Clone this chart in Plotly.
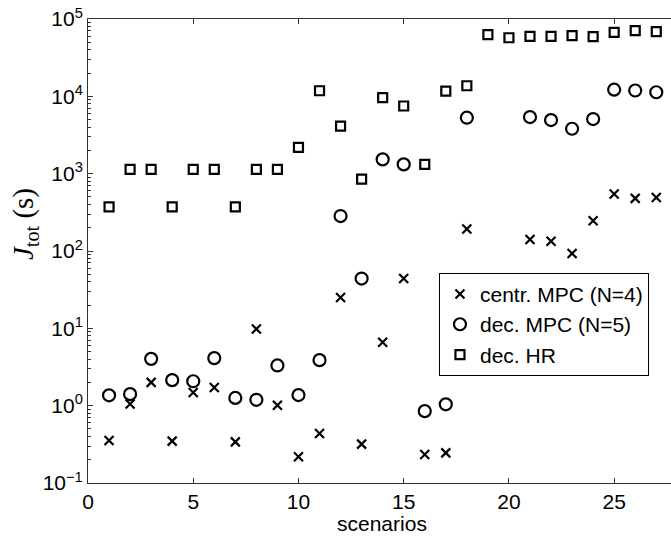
import plotly.graph_objects as go

scenarios = list(range(1, 28))

centr_mpc_n4 = [0.355, 1.05, 2.0, 0.348, 1.48, 1.72, 0.34, 9.8, 1.01, 0.218,
                0.436, 25, 0.318, 6.6, 44, 0.234, 0.245, 192, None, None,
                141, 134, 93, 246, 545, 479, 493]

dec_mpc_n5 = [1.36, 1.41, 4.03, 2.14, 2.07, 4.12, 1.26, 1.19, 3.31, 1.37,
              3.88, 283, 44, 1530, 1318, 0.85, 1.04, 5290, None, None,
              5390, 4930, 3810, 5080, 12200, 11900, 11300]

dec_hr = [373, 1137, 1137, 373, 1137, 1137, 373, 1137, 1137, 2190,
          11800, 4130, 850, 9600, 7500, 1318, 11700, 13700, 62700, 57200,
          59700, 59700, 60800, 59000, 67300, 70600, 68500]

x_tickvals = [0, 5, 10, 15, 20, 25]
y_tickvals = [0.1, 1, 10, 100, 1000, 10000, 100000]
y_ticktext = ["10<sup>\u22121</sup>", "10<sup>0</sup>", "10<sup>1</sup>",
              "10<sup>2</sup>", "10<sup>3</sup>", "10<sup>4</sup>", "10<sup>5</sup>"]

names = ["centr. MPC (N=4)", "dec. MPC (N=5)", "dec. HR"]

FONT = "Liberation Sans, Arial, Helvetica, sans-serif"
AX = "#333333"

fig = go.Figure()
fig.add_trace(go.Scatter(
    x=scenarios, y=centr_mpc_n4, mode="markers", name=names[0],
    marker=dict(symbol="x-thin-open", size=9, color="black",
                line=dict(color="black", width=2.2))))
fig.add_trace(go.Scatter(
    x=scenarios, y=dec_mpc_n5, mode="markers", name=names[1],
    marker=dict(symbol="circle-open", size=12, color="black",
                line=dict(color="black", width=2.2))))
fig.add_trace(go.Scatter(
    x=scenarios, y=dec_hr, mode="markers", name=names[2],
    marker=dict(symbol="square-open", size=9, color="black",
                line=dict(color="black", width=2.2))))

fig.update_layout(
    width=671, height=540,
    margin=dict(l=88, r=0, t=19, b=57),
    paper_bgcolor="white", plot_bgcolor="white",
    font=dict(family=FONT, size=21, color="black"),
    showlegend=True,
    legend=dict(x=0.602, y=0.453, xanchor="left", yanchor="top",
                bgcolor="white", bordercolor="black", borderwidth=1,
                font=dict(family=FONT, size=21, color="black"),
                itemwidth=30, tracegroupgap=0),
    xaxis=dict(range=[0, 27.7], tickmode="array", tickvals=x_tickvals,
               ticks="inside", ticklen=5, tickcolor=AX, tickwidth=1,
               showline=True, linecolor=AX, linewidth=1, mirror="ticks",
               showgrid=False, zeroline=False,
               tickfont=dict(family=FONT, size=21, color="black")),
    yaxis=dict(type="log", range=[-1, 5], tickmode="array",
               tickvals=y_tickvals, ticktext=y_ticktext,
               ticks="inside", ticklen=5, tickcolor=AX, tickwidth=1,
               showline=True, linecolor=AX, linewidth=1, mirror=False,
               showgrid=False, zeroline=False,
               minor=dict(ticks="inside", ticklen=3, tickcolor=AX,
                          dtick="D1", showgrid=False),
               tickfont=dict(family=FONT, size=21, color="black")),
    annotations=[
        dict(text="<i>J</i><sub>tot</sub> (s)", xref="paper", yref="paper",
             x=-0.108, y=0.558, xanchor="center", yanchor="middle",
             textangle=-90, showarrow=False,
             font=dict(family="Liberation Serif, Times New Roman, serif", size=29, color="black")),
        dict(text="scenarios", xref="paper", yref="paper",
             x=0.505, y=-0.088, xanchor="center", yanchor="middle",
             showarrow=False,
             font=dict(family=FONT, size=21, color="black")),
    ],
)

fig.write_html("out.html")
